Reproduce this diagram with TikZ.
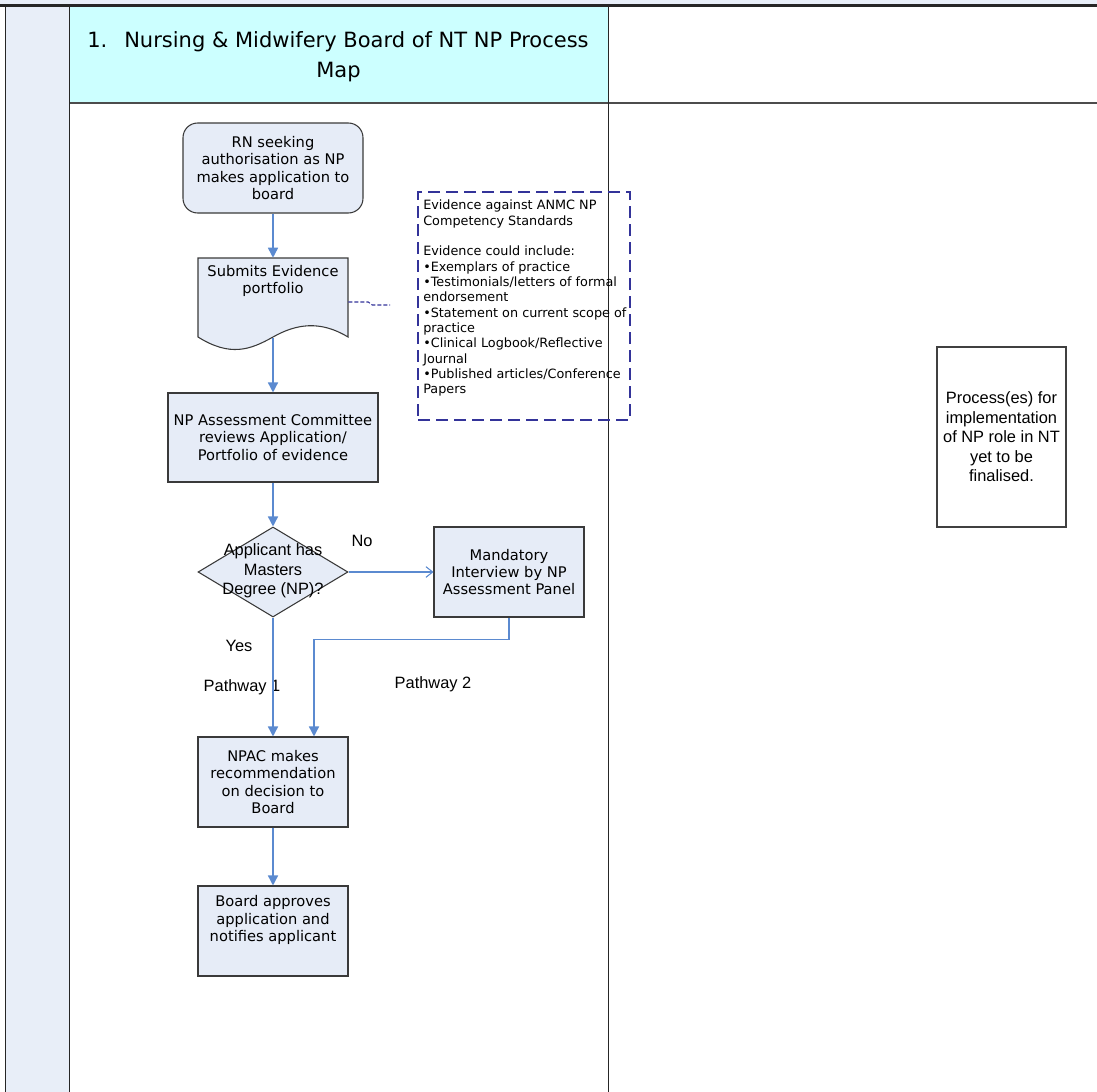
\documentclass[tikz,border=0pt]{standalone}
\usepackage{fontspec}
\setmainfont{DejaVu Sans}
\newfontfamily\arialf{Liberation Sans}
\usetikzlibrary{arrows.meta,shapes.geometric,calc}
\definecolor{lanefill}{HTML}{E8EEF8}
\definecolor{headfill}{HTML}{CCFFFF}
\definecolor{boxfill}{HTML}{E6ECF7}
\definecolor{boxline}{HTML}{3A3A3A}
\definecolor{flowcol}{HTML}{5B8AD0}
\definecolor{evcol}{HTML}{333399}
\tikzset{
  lanel/.style={draw=black!85, line width=0.75pt},
  boxtext/.style={font=\fontsize{11}{13.1}\selectfont, align=center, inner sep=0pt},
  box/.style={draw=boxline, fill=boxfill, line width=0.8pt, minimum width=112.5pt, minimum height=67.5pt, boxtext},
  rbox/.style={box, rounded corners=11pt, minimum width=135pt},
  dia/.style={diamond, draw=boxline, fill=boxfill, line width=0.8pt, minimum width=112.5pt, minimum height=67.5pt, inner sep=0pt},
  arialtext/.style={font=\arialf\fontsize{12.3}{14.6}\selectfont, align=center, inner sep=0pt},
  evtext/.style={font=\fontsize{9.6}{11.5}\selectfont, align=left, inner sep=0pt},
  flow/.style={draw=flowcol, line width=1.1pt, -{Triangle[length=7.5pt,width=7.5pt]}},
  openflow/.style={draw=flowcol, line width=0.8pt, -{Straight Barb[length=5pt,width=8pt]}},
  evbox/.style={draw=evcol, line width=1.8pt, dash pattern=on 9pt off 4.5pt},
  evline/.style={draw=evcol, line width=0.8pt, dash pattern=on 3pt off 1.5pt},
  titletext/.style={font=\fontsize{15.75}{22.5}\selectfont, inner sep=0pt}
}
\begin{document}
\begin{tikzpicture}[x=0.75pt,y=-0.75pt]
\useasboundingbox (0,0) rectangle (1097,1092);
% lanes and header
\fill[lanefill] (0,0) rectangle (1097,5);
\fill[lanefill] (5,6) rectangle (69,1092);
\fill[headfill] (69,6) rectangle (608,103);
\draw[draw=black!85, line width=1.6pt] (0,5.5) -- (1097,5.5);
\draw[draw=black!70, line width=1.4pt] (69,103) -- (1097,103);
\draw[lanel] (5,6) -- (5,1092);
\draw[lanel] (69,6) -- (69,1092);
\draw[lanel] (608,6) -- (608,1092);
% title
\node[titletext, anchor=base west] (t1) at (87,47) {1.};
\node[titletext, anchor=base west] (t2) at (124,47) {Nursing \& Midwifery Board of NT NP Process};
\node[titletext, anchor=base] (t3) at (338.5,77) {Map};
% evidence box
\node[evbox, minimum width=159pt, minimum height=171pt, inner sep=0pt] (ev) at (524,306) {};
\node[evtext, anchor=north west] (evt) at (423,200) {Evidence against ANMC NP\\Competency Standards\\[11.5pt]Evidence could include:\\\textbullet Exemplars of practice\\\textbullet Testimonials/letters of formal\\endorsement\\\textbullet Statement on current scope of\\practice\\\textbullet Clinical Logbook/Reflective\\Journal\\\textbullet Published articles/Conference\\Papers};
% flow nodes
\node[rbox] (rn) at (273,168) {RN seeking\\authorisation as NP\\makes application to\\board};
\node[inner sep=0pt, minimum width=112.5pt, minimum height=59.25pt] (doc) at (273,297.5) {};
\draw[draw=boxline, fill=boxfill, line width=0.8pt] (198,258) -- (348,258) -- (348,337)
  .. controls (320,320) and (296,324) .. (273,337)
  .. controls (250,350) and (230,357) .. (198,337) -- cycle;
\node[boxtext] (doct) at (273,281) {Submits Evidence\\portfolio};
\coordinate (docbot) at (273,338);
\node[box, minimum width=157.5pt, minimum height=66.75pt] (com) at (273,437.5) {NP Assessment Committee\\reviews Application/\\Portfolio of evidence};
\node[dia] (dia) at (273,572) {};
\node[arialtext] (diat) at (273,571) {Applicant has\\Masters\\Degree (NP)?};
\node[box] (mand) at (509,572) {Mandatory\\Interview by NP\\Assessment Panel};
\node[box] (npac) at (273,782) {NPAC makes\\recommendation\\on decision to\\Board};
\node[box] (board) at (273,931) {};
\node[boxtext] (boardt) at (273,920) {Board approves\\application and\\notifies applicant};
\node[draw=black!75, line width=0.8pt, minimum width=96.75pt, minimum height=135pt, arialtext] (proc) at (1001.5,437) {Process(es) for\\implementation\\of NP role in NT\\yet to be\\finalised.};
% labels
\node[arialtext] (no) at (362,541) {No};
\node[arialtext] (yes) at (239,646) {Yes};
\node[arialtext] (pw1) at (242,687) {Pathway 1};
\node[arialtext] (pw2) at (433,684) {Pathway 2};
% connectors
\coordinate (evend) at (390,305);
\draw[evline] ($(doc.east)+(0,4.5)$) -- ++(20,0) -- ++(4,3) -- (evend);
\draw[flow] (rn.south) -- (doc.north);
\draw[flow] (docbot) -- (com.north);
\draw[flow] (com.south) -- (dia.north);
\draw[openflow] (dia.east) -- (mand.west);
\draw[flow] (dia.south) -- (npac.north);
\draw[flow] (mand.south) -- ++(0,22) -| ($(npac.north)+(41,0)$);
\draw[flow] (npac.south) -- (board.north);
\end{tikzpicture}
\end{document}
